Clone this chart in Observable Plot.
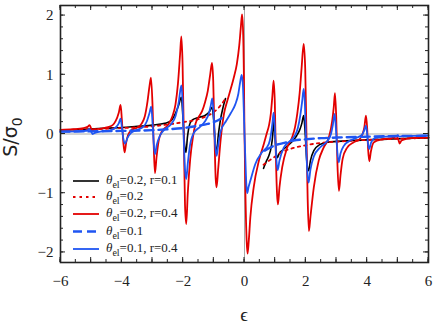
<!DOCTYPE html>
<html>
<head>
<meta charset="utf-8">
<script src="https://cdn.jsdelivr.net/npm/d3@7"></script>
<script src="https://cdn.jsdelivr.net/npm/@observablehq/plot@0.6"></script>
<style>
  html, body { margin: 0; padding: 0; background: white; }
  #chart { width: 436px; height: 329px; }
  #chart svg text { font-family: "Liberation Serif", serif; }
</style>
</head>
<body>
<div id="chart"></div>
<script>
// ---- tick labels ----
const xTickLabels = [-6, -4, -2, 0, 2, 4, 6];
const yTickLabels = [-2, -1, 0, 1, 2];

// ---- series (x = ϵ, y = S/σ0) ----
const blackR01 = [
  [-6, 0.068], [-5, 0.085], [-4.5, 0.1], [-4, 0.11], [-3.5, 0.13], [-3, 0.15], [-2.6, 0.18], [-2.4, 0.22],
  [-2.25, 0.35], [-2.15, 0.48], [-2.06, 0.62], [-2.01, 0.3], [-1.96, -0.15], [-1.91, -0.31], [-1.86, -0.05],
  [-1.8, 0.14], [-1.7, 0.24], [-1.5, 0.28], [-1.3, 0.31], [-1.15, 0.37], [-1.06, 0.45], [-1.0, 0.2],
  [-0.95, -0.2], [-0.91, -0.31], [-0.86, -0.05], [-0.79, 0.22], [-0.7, 0.45], [-0.62, 0.6],
  [null, null],
  [0.62, -0.58], [0.72, -0.45], [0.8, -0.36], [0.87, -0.22], [0.92, -0.02], [0.95, 0.22], [0.99, 0.0],
  [1.03, -0.3], [1.07, -0.4], [1.13, -0.33], [1.25, -0.27], [1.4, -0.2], [1.55, -0.13], [1.7, -0.03],
  [1.8, 0.07], [1.87, 0.18], [1.93, 0.31], [1.98, 0.0], [2.03, -0.45], [2.09, -0.62], [2.15, -0.45],
  [2.26, -0.28], [2.45, -0.18], [2.7, -0.14], [3, -0.125], [3.5, -0.11], [4, -0.1], [4.5, -0.09],
  [5, -0.08], [5.5, -0.07], [6, -0.065]
];
const redDotted = [
  [-6, 0.068], [-5, 0.08], [-4, 0.1], [-3, 0.13], [-2.5, 0.16], [-2, 0.2], [-1.5, 0.25], [-1.2, 0.31],
  [-1, 0.37], [-0.8, 0.47], [-0.62, 0.6],
  [null, null],
  [0.62, -0.52], [0.8, -0.45], [1, -0.38], [1.2, -0.31], [1.5, -0.25], [2, -0.19], [2.5, -0.15],
  [3, -0.13], [4, -0.1], [5, -0.08], [6, -0.065]
];
const redR04 = [
  [-6, 0.068], [-5.6, 0.08], [-5.25, 0.1], [-5.12, 0.12], [-5.05, 0.15], [-5.0, 0.09], [-4.96, 0.05],
  [-4.9, 0.07], [-4.7, 0.09], [-4.5, 0.11], [-4.3, 0.15], [-4.2, 0.22], [-4.1, 0.36], [-4.04, 0.49],
  [-4.0, 0.25], [-3.95, -0.15], [-3.91, -0.31], [-3.86, -0.15], [-3.8, -0.02], [-3.7, 0.06], [-3.5, 0.11],
  [-3.35, 0.18], [-3.25, 0.3], [-3.16, 0.56], [-3.1, 0.8], [-3.05, 0.95], [-3.0, 0.5], [-2.96, -0.2],
  [-2.92, -0.66], [-2.87, -0.4], [-2.8, -0.12], [-2.7, 0.04], [-2.5, 0.15], [-2.35, 0.3], [-2.25, 0.5],
  [-2.17, 0.85], [-2.1, 1.35], [-2.06, 1.65], [-2.02, 1.2], [-1.98, 0.0], [-1.94, -1.2], [-1.9, -1.52],
  [-1.85, -1.0], [-1.77, -0.42], [-1.68, -0.05], [-1.6, 0.17], [-1.48, 0.3], [-1.38, 0.39], [-1.28, 0.55],
  [-1.2, 0.72], [-1.12, 1.0], [-1.06, 1.2], [-1.02, 0.9], [-0.98, 0.0], [-0.94, -0.75], [-0.91, -0.9],
  [-0.86, -0.6], [-0.78, -0.11], [-0.67, 0.34], [-0.56, 0.56], [-0.45, 0.76], [-0.35, 0.95], [-0.25, 1.18],
  [-0.17, 1.5], [-0.12, 1.8], [-0.08, 2.02], [-0.05, 1.8], [-0.02, 1.0], [0.0, 0.0], [0.03, -1.0],
  [0.07, -1.8], [0.1, -2.02], [0.14, -1.8], [0.19, -1.41], [0.3, -0.9], [0.47, -0.45], [0.63, -0.17],
  [0.72, 0.0], [0.8, 0.15], [0.86, 0.35], [0.91, 0.65], [0.95, 0.9], [0.99, 0.5], [1.02, -0.3],
  [1.06, -1.0], [1.09, -1.19], [1.14, -0.9], [1.23, -0.56], [1.39, -0.23], [1.55, -0.06], [1.65, 0.12],
  [1.72, 0.34], [1.8, 0.7], [1.86, 1.1], [1.93, 1.52], [1.98, 1.1], [2.02, 0.0], [2.06, -1.1],
  [2.1, -1.64], [2.15, -1.4], [2.26, -0.9], [2.42, -0.45], [2.58, -0.23], [2.75, -0.06], [2.86, 0.22],
  [2.91, 0.45], [2.95, 0.69], [2.99, 0.3], [3.03, -0.5], [3.08, -0.96], [3.13, -0.7], [3.2, -0.42],
  [3.35, -0.23], [3.56, -0.14], [3.75, -0.09], [3.85, 0.0], [3.91, 0.12], [3.96, 0.31], [4.0, 0.1],
  [4.03, -0.25], [4.07, -0.46], [4.12, -0.3], [4.22, -0.14], [4.5, -0.09], [4.8, -0.07], [4.97, -0.04],
  [5.02, -0.1], [5.06, -0.16], [5.12, -0.11], [5.3, -0.08], [5.6, -0.065], [6, -0.06]
];
const blueDashed = [
  [-6, 0.04], [-5, 0.045], [-4, 0.052], [-3, 0.065], [-2.5, 0.08], [-2, 0.1], [-1.5, 0.14], [-1.2, 0.17],
  [-1, 0.2], [-0.8, 0.25], [-0.66, 0.3],
  [null, null],
  [0.66, -0.28], [0.8, -0.24], [1, -0.19], [1.3, -0.15], [1.6, -0.11], [2, -0.09], [2.5, -0.07],
  [3, -0.06], [4, -0.045], [5, -0.035], [6, -0.03]
];
const blueR04 = [
  [-6, 0.04], [-5.5, 0.045], [-5.15, 0.055], [-5.06, 0.08], [-5.0, 0.04], [-4.95, 0.0], [-4.88, 0.02],
  [-4.7, 0.04], [-4.4, 0.06], [-4.2, 0.11], [-4.1, 0.18], [-4.04, 0.26], [-4.0, 0.12], [-3.95, -0.08],
  [-3.89, -0.16], [-3.82, -0.07], [-3.7, 0.02], [-3.5, 0.07], [-3.3, 0.12], [-3.18, 0.22], [-3.1, 0.35],
  [-3.04, 0.46], [-3.0, 0.2], [-2.96, -0.15], [-2.92, -0.34], [-2.86, -0.18], [-2.75, -0.02], [-2.6, 0.08],
  [-2.4, 0.16], [-2.25, 0.3], [-2.15, 0.52], [-2.06, 0.82], [-2.02, 0.55], [-1.98, -0.1], [-1.94, -0.6],
  [-1.9, -0.76], [-1.85, -0.5], [-1.78, -0.2], [-1.65, 0.02], [-1.45, 0.12], [-1.28, 0.22], [-1.16, 0.35],
  [-1.1, 0.48], [-1.05, 0.6], [-1.01, 0.35], [-0.96, -0.15], [-0.91, -0.37], [-0.86, -0.2], [-0.78, 0.04],
  [-0.6, 0.22], [-0.45, 0.35], [-0.3, 0.5], [-0.2, 0.68], [-0.14, 0.88], [-0.09, 1.0], [-0.05, 0.8],
  [-0.02, 0.35], [0.0, 0.0], [0.03, -0.45], [0.06, -0.85], [0.09, -1.0], [0.13, -0.9], [0.19, -0.79],
  [0.35, -0.51], [0.57, -0.31], [0.79, -0.17], [0.86, -0.02], [0.91, 0.18], [0.95, 0.36], [0.99, 0.1],
  [1.03, -0.35], [1.08, -0.61], [1.14, -0.45], [1.28, -0.23], [1.5, -0.11], [1.65, -0.02], [1.74, 0.1],
  [1.82, 0.32], [1.88, 0.55], [1.93, 0.76], [1.97, 0.5], [2.01, -0.2], [2.05, -0.65], [2.09, -0.82],
  [2.15, -0.6], [2.26, -0.38], [2.48, -0.22], [2.7, -0.12], [2.82, 0.0], [2.88, 0.15], [2.94, 0.34],
  [2.98, 0.1], [3.02, -0.25], [3.07, -0.48], [3.13, -0.33], [3.24, -0.2], [3.45, -0.11], [3.67, -0.06],
  [3.85, 0.0], [3.91, 0.07], [3.96, 0.14], [4.0, 0.0], [4.03, -0.17], [4.07, -0.25], [4.13, -0.14],
  [4.25, -0.07], [4.6, -0.045], [4.95, -0.035], [5.0, -0.02], [5.05, -0.045], [5.15, -0.035], [5.5, -0.03],
  [6, -0.025]
];

const RED = "#e30000";
const BLUE = "#1f55f2";
const xMinor = d3.range(-6, 6.001, 0.5);
const yMinor = d3.range(-2.2, 2.201, 0.2).filter(v => v >= -2.17 && v <= 2.17);
const xMajor = d3.range(-6, 6.001, 1);
const yMajor = yTickLabels;

const acc = {x: d => d[0], y: d => d[1], defined: d => d[0] != null};
const fmt = d => d < 0 ? "\u2212" + Math.abs(d) : String(d);

const plot = Plot.plot({
  width: 436, height: 329,
  marginLeft: 60, marginRight: 8, marginTop: 5, marginBottom: 67,
  x: {domain: [-6, 6]},
  y: {domain: [-2.17, 2.17]},
  style: {fontFamily: "Liberation Serif", fontSize: "15px", background: "white", color: "#222"},
  marks: [
    Plot.ruleY([0], {stroke: "#a8a8a8", strokeWidth: 1}),
    Plot.ruleX([0], {stroke: "#a8a8a8", strokeWidth: 1}),
    Plot.line(blackR01, {...acc, stroke: "black", strokeWidth: 1.6, curve: "monotone-x"}),
    Plot.line(redDotted, {...acc, stroke: RED, strokeWidth: 1.8, strokeDasharray: "2.5,4", curve: "monotone-x"}),
    Plot.line(redR04, {...acc, stroke: RED, strokeWidth: 1.8, curve: "monotone-x"}),
    Plot.line(blueDashed, {...acc, stroke: BLUE, strokeWidth: 2.4, strokeDasharray: "9,5", curve: "monotone-x"}),
    Plot.line(blueR04, {...acc, stroke: BLUE, strokeWidth: 1.8, curve: "monotone-x"}),
    Plot.axisX(xTickLabels, {anchor: "bottom", tickSize: 0, tickPadding: 13, label: null,
      tickFormat: fmt, fontSize: 15, fontFamily: "Liberation Serif"}),
    Plot.axisY(yTickLabels, {anchor: "left", tickSize: 0, tickPadding: 7, label: null,
      tickFormat: fmt, fontSize: 15, fontFamily: "Liberation Serif"}),
    Plot.frame({stroke: "#222", strokeWidth: 1.6})
  ]
});

document.getElementById("chart").appendChild(plot);

// ---- inward frame ticks, placed through the plot's own scales ----
const svg = d3.select(plot);
const sx = plot.scale("x"), sy = plot.scale("y");
const [L, R] = sx.range, [B, T] = sy.range;
const tg = svg.append("g").attr("stroke", "#222").attr("stroke-width", 1);
function xt(v, len) {
  const px = sx.apply(v);
  tg.append("line").attr("x1", px).attr("x2", px).attr("y1", B).attr("y2", B - len);
  tg.append("line").attr("x1", px).attr("x2", px).attr("y1", T).attr("y2", T + len);
}
function yt(v, len) {
  const py = sy.apply(v);
  tg.append("line").attr("y1", py).attr("y2", py).attr("x1", L).attr("x2", L + len);
  tg.append("line").attr("y1", py).attr("y2", py).attr("x1", R).attr("x2", R - len);
}
xMinor.forEach(v => xt(v, 3));
xMajor.forEach(v => xt(v, 5));
yMinor.forEach(v => yt(v, 3));
yMajor.forEach(v => yt(v, 5));

// ---- axis labels ----
const ylab = svg.append("text")
  .attr("transform", "translate(17,137) rotate(-90)")
  .attr("text-anchor", "middle")
  .style("font-family", "DejaVu Sans")
  .style("font-size", "19px")
  .attr("fill", "#222");
ylab.append("tspan").style("font-family", "DejaVu Sans").text("S/σ");
ylab.append("tspan").attr("dy", 5).style("font-family", "DejaVu Sans").style("font-size", "14px").text("0");

svg.append("text")
  .attr("x", 244).attr("y", 321)
  .attr("text-anchor", "middle")
  .style("font-size", "19px")
  .attr("fill", "#222")
  .text("ϵ");

// ---- legend ----
const legendItems = [
  {label: "=0.2, r=0.1", stroke: "black", width: 1.6, dash: null},
  {label: "=0.2", stroke: RED, width: 1.8, dash: "2.5,4"},
  {label: "=0.2, r=0.4", stroke: RED, width: 1.8, dash: null},
  {label: "=0.1", stroke: BLUE, width: 2.4, dash: "9,5"},
  {label: "=0.1, r=0.4", stroke: BLUE, width: 1.8, dash: null}
];
const legendY = [181, 197, 214, 231.5, 249];
legendItems.forEach((it, i) => {
  const y = legendY[i];
  svg.append("line").attr("x1", 73).attr("x2", 99).attr("y1", y).attr("y2", y)
    .attr("stroke", it.stroke).attr("stroke-width", it.width)
    .attr("stroke-dasharray", it.dash);
  const t = svg.append("text").attr("x", 106).attr("y", y + 3)
    .attr("text-anchor", "start")
    .style("font-size", "13px").attr("fill", "#222");
  t.append("tspan").style("font-style", "italic").text("θ");
  t.append("tspan").attr("dy", 4).style("font-size", "10px").text("el");
  t.append("tspan").attr("dy", -4).text(it.label);
});
</script>
</body>
</html>
